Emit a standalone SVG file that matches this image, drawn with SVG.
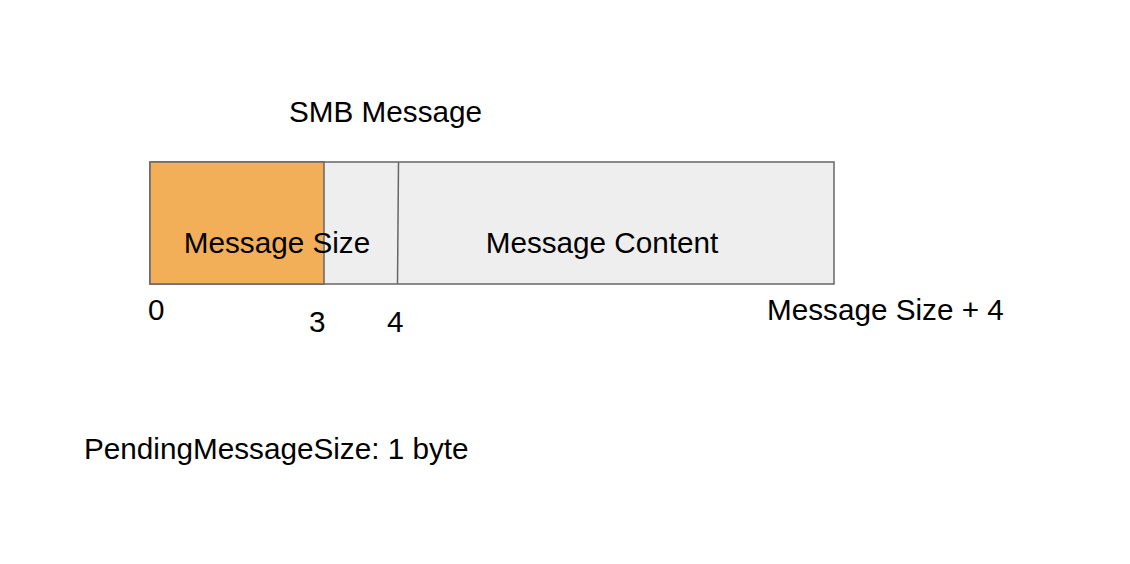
<svg xmlns="http://www.w3.org/2000/svg" width="1130" height="564" viewBox="0 0 1130 564">
<style>
text{font-family:"Liberation Sans",Arial,sans-serif;font-size:29.7px;fill:#000}
.box{stroke:#666;stroke-width:1.5}
</style>
<rect width="1130" height="564" fill="#fff"/>
<g id="message">
<rect class="box" x="150" y="162" width="684" height="122" fill="#eeeeee"/>
</g>
<g id="size-field">
<rect class="box" x="150" y="162" width="174" height="122" fill="#f2af57"/>
</g>
<g id="connectors">
<line class="box" x1="398.5" y1="162" x2="397.5" y2="284"/>
</g>
<g id="labels">
<text x="289" y="122">SMB Message</text>
<text x="277" y="253" text-anchor="middle">Message Size</text>
<text x="602" y="253" text-anchor="middle">Message Content</text>
<text x="148" y="320">0</text>
<text x="309" y="332">3</text>
<text x="387" y="332">4</text>
<text x="767" y="320">Message Size + 4</text>
<text x="84" y="459">PendingMessageSize: 1 byte</text>
</g>
</svg>
